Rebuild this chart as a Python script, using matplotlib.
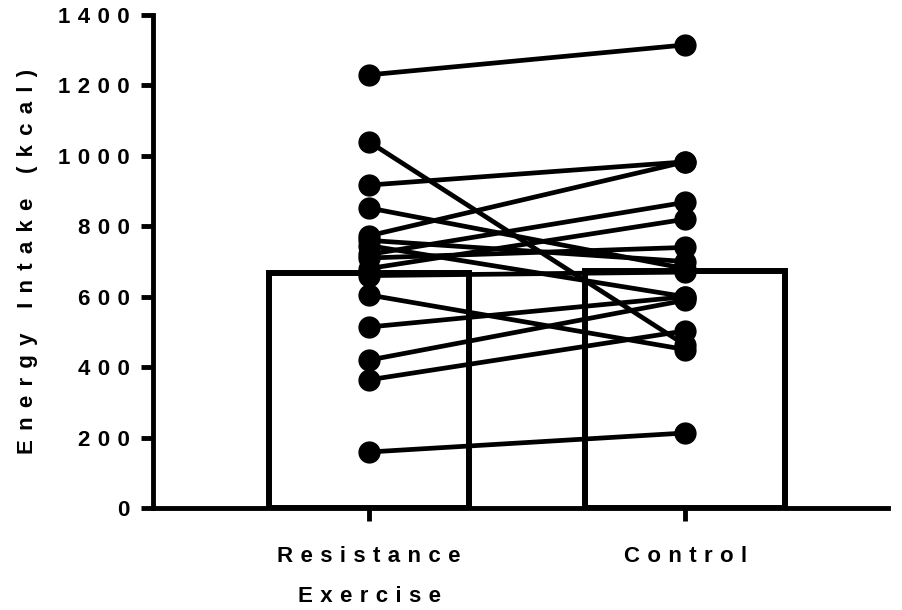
import matplotlib
matplotlib.use("Agg")
import matplotlib.pyplot as plt

categories = ["Resistance\nExercise", "Control"]
bar_means = [668, 674]
resistance = [1230, 1040, 917, 852, 773, 760, 745, 720, 710, 680, 660, 605, 514, 420, 364, 159]
control = [1315, 463, 983, 680, 983, 700, 600, 868, 740, 820, 670, 450, 600, 590, 503, 213]
yticks = [0, 200, 400, 600, 800, 1000, 1200, 1400]


def spaced(s, sp="\u2004"):
    return "\n".join(sp.join(line) for line in s.split("\n"))


plt.rcParams['font.family'] = ['Liberation Sans', 'DejaVu Sans']
fig = plt.figure(figsize=(9.02, 6.10), dpi=100)
ax = fig.add_axes([153 / 902, 1 - 508 / 610, (888 - 153) / 902, (508 - 15) / 610])

x = [0, 1]
ax.bar(x, bar_means, width=0.635, facecolor='none', edgecolor='black', linewidth=4.3, zorder=2)
for l, r in zip(resistance, control):
    ax.plot(x, [l, r], color='black', lw=3.4, marker='o', ms=15, zorder=3, solid_capstyle='butt')

ax.set_xlim(-0.6835, 1.642)
ax.set_ylim(0, 1400)
ax.set_yticks(yticks)
ax.set_yticklabels([spaced(str(t)) for t in yticks], fontsize=16, fontweight='bold')
ax.set_xticks(x)
ax.set_xticklabels([spaced(c) for c in categories], fontsize=16, fontweight='bold', linespacing=2.2)
ax.set_ylabel(spaced("Energy Intake (kcal)", "\u2004\u200a"), fontsize=16, fontweight='bold', labelpad=14)

for s in ['top', 'right']:
    ax.spines[s].set_visible(False)
for s in ['left', 'bottom']:
    ax.spines[s].set_linewidth(3.5)
ax.tick_params(axis='both', direction='out', length=9, width=3.5)
ax.tick_params(axis='y', pad=8)
ax.tick_params(axis='x', pad=18)

fig.savefig("out.png", dpi=100)
